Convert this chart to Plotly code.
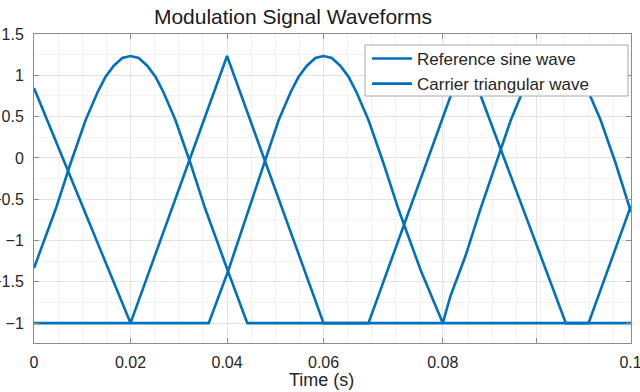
import plotly.graph_objects as go

# ---- data (time in s, amplitude) ----
hump_a_t = [0, 0.0045, 0.0076, 0.0107, 0.0132, 0.0148, 0.0165, 0.0183, 0.0200, 0.0217,
            0.0235, 0.0252, 0.0268, 0.0293, 0.0324, 0.0355, 0.0401, 0.0442, 0.1237]
hump_a_v = [-1.333, -0.619, -0.062, 0.459, 0.798, 0.979, 1.113, 1.209, 1.234, 1.209,
            1.113, 0.979, 0.798, 0.459, -0.062, -0.619, -1.357, -2.0, -2.0]

hump_b_t = [0, 0.0362, 0.0403, 0.0445, 0.0476, 0.0507, 0.0532, 0.0548, 0.0565, 0.0583,
            0.0600, 0.0617, 0.0635, 0.0652, 0.0668, 0.0693, 0.0724, 0.0755, 0.0801, 0.0847,
            0.0863, 0.0894, 0.0925, 0.0957, 0.0988, 0.1012, 0.1029, 0.1046, 0.1064, 0.1081,
            0.1097, 0.1116, 0.1133, 0.1149, 0.1174, 0.1205, 0.1237]
hump_b_v = [-2.0, -2.0, -1.357, -0.619, -0.062, 0.459, 0.798, 0.979, 1.113, 1.209,
            1.234, 1.209, 1.113, 0.979, 0.798, 0.459, -0.062, -0.619, -1.357, -2.0,
            -1.672, -1.188, -0.619, -0.062, 0.459, 0.798, 0.979, 1.113, 1.209, 1.234,
            1.209, 1.113, 0.979, 0.798, 0.459, -0.062, -0.655]

tri_t = [0, 0.02, 0.04, 0.06, 0.0693, 0.0894, 0.1102, 0.1149, 0.1237]
tri_v = [0.846, -2.0, 1.234, -2.0, -2.0, 1.246, -2.0, -2.0, -0.58]

x_tickvals = [0, 0.02, 0.04, 0.06, 0.0847, 0.1041, 0.1236]
x_ticktext = ["0", "0.02", "0.04", "0.06", "0.08", "", "0.1"]
y_tickvals = [1.5, 1, 0.5, 0, -0.5, -1, -1.5, -2]
y_ticktext = ["1.5", "1", "0.5", "0", "\u22120.5", "\u22121", "\u22121.5", "\u22121"]

series_names = ["Reference sine wave", "Carrier triangular wave"]
line_color = "#0072BD"

# reference sine trace = both hump segments, separated by a gap
sine_t = hump_a_t + [None] + hump_b_t
sine_v = hump_a_v + [None] + hump_b_v

FONT = "Liberation Sans, Arial, Helvetica, sans-serif"
TXT = "#262626"
AX = "#8c8c8c"

fig = go.Figure()
fig.add_trace(go.Scatter(x=sine_t, y=sine_v, mode="lines", name=series_names[0],
                         line=dict(color=line_color, width=2.6), connectgaps=False))
fig.add_trace(go.Scatter(x=tri_t, y=tri_v, mode="lines", name=series_names[1],
                         line=dict(color=line_color, width=2.6)))

axis_common = dict(
    showline=True, linecolor=AX, linewidth=1, mirror="ticks",
    ticks="inside", ticklen=5, tickcolor=AX, tickwidth=1,
    showgrid=True, gridcolor="#e3e3e3", gridwidth=1, automargin=False,
    zeroline=False, tickfont=dict(family=FONT, size=16, color=TXT),
    ticklabeloverflow="allow",
)

fig.update_xaxes(range=[0, 0.1237], tickmode="array", tickvals=x_tickvals, ticktext=x_ticktext,
                 minor=dict(tickmode="linear", tick0=0, dtick=0.005, showgrid=True,
                            gridcolor="#f2f2f2", ticklen=0),
                 ticklabelstandoff=5, **axis_common)
fig.update_yaxes(range=[-2.241, 1.5], tickmode="array", tickvals=y_tickvals, ticktext=y_ticktext,
                 minor=dict(tickmode="linear", tick0=0, dtick=0.25, showgrid=True,
                            gridcolor="#f2f2f2", ticklen=0),
                 ticklabelstandoff=6, **axis_common)

# legend frame (drawn above the curves, below the legend entries)
fig.add_shape(type="rect", xref="paper", yref="paper",
              x0=(365 - 34) / 597, x1=(628 - 34) / 597,
              y0=(343 - 96) / 309, y1=(343 - 45) / 309,
              fillcolor="white", opacity=1, line=dict(color="#a8a8a8", width=1), layer="above")

fig.add_annotation(text="Time (s)", xref="paper", yref="paper",
                   x=(321 - 34) / 597, y=(343 - 380) / 309, xanchor="center", yanchor="middle",
                   showarrow=False, font=dict(family=FONT, size=18, color=TXT))

fig.update_layout(
    width=640, height=392,
    margin=dict(l=34, r=9, t=34, b=49),
    paper_bgcolor="white", plot_bgcolor="white",
    title=dict(text="Modulation Signal Waveforms", x=(293 - 34) / 597, xref="paper",
               xanchor="center", y=1 - 17 / 392, yanchor="middle",
               font=dict(family=FONT, size=21, color="#1a1a1a")),
    legend=dict(x=(367 - 34) / 597, y=(343 - 41) / 309, xanchor="left", yanchor="top",
                bgcolor="rgba(255,255,255,0)", borderwidth=0, itemwidth=40,
                font=dict(family=FONT, size=17, color=TXT), tracegroupgap=0),
    showlegend=True,
)

fig.write_html("out.html", config={"displayModeBar": False},
               post_script="document.body.style.margin='0px';")
